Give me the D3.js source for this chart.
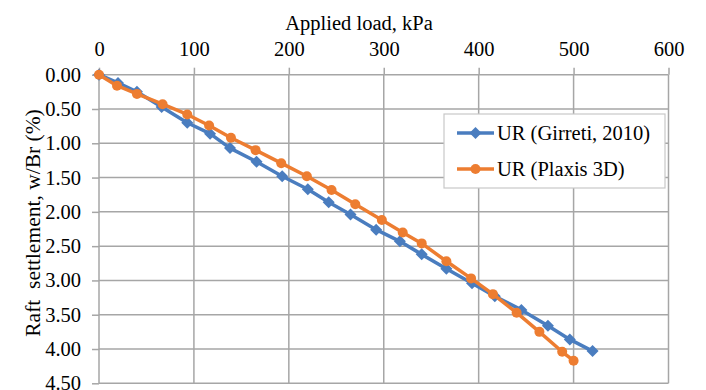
<!DOCTYPE html>
<html>
<head>
<meta charset="utf-8">
<script src="https://cdn.jsdelivr.net/npm/d3@7"></script>
<style>
  html, body { margin: 0; padding: 0; background: #fff; }
  svg { display: block; }
  text { font-family: "Liberation Serif", "Times New Roman", serif; fill: #000; }
</style>
</head>
<body>
<svg id="chart" width="706" height="390"></svg>
<script>
// Applied load (kPa) and normalised raft settlement w/Br (%)
const girretiLoad = [0, 20, 40, 66, 93, 117, 138, 166, 193, 220, 242, 265, 292, 317, 340, 366, 393, 417, 445, 473, 496, 520];
const girretiSettle = [0, 0.12, 0.25, 0.47, 0.70, 0.86, 1.07, 1.27, 1.48, 1.67, 1.86, 2.04, 2.26, 2.43, 2.62, 2.83, 3.04, 3.23, 3.43, 3.66, 3.86, 4.03];
const plaxisLoad = [0, 19, 40, 67, 93, 116, 139, 165, 192, 219, 245, 270, 298, 320, 340, 366, 392, 415, 440, 464, 488, 500];
const plaxisSettle = [0, 0.16, 0.28, 0.43, 0.58, 0.74, 0.92, 1.10, 1.29, 1.48, 1.68, 1.89, 2.12, 2.30, 2.46, 2.72, 2.97, 3.20, 3.47, 3.75, 4.04, 4.17];

const xTicks = [0, 100, 200, 300, 400, 500, 600];
const yTicks = [0, 0.5, 1, 1.5, 2, 2.5, 3, 3.5, 4, 4.5];

const seriesNames = ["UR (Girreti, 2010)", "UR (Plaxis 3D)"];
const xTitle = "Applied load, kPa";
const yTitle = "Raft\u00a0 settlement, w/Br (%)";

const W = 706, H = 390;
const margin = { top: 74.7, right: 37.5, bottom: 6.7, left: 99 };
const svg = d3.select("#chart");

const x = d3.scaleLinear().domain([0, 600]).range([margin.left, W - margin.right]);
const y = d3.scaleLinear().domain([0, 4.5]).range([margin.top, H - margin.bottom]);

const gridColor = "#a6a6a6";
const fontSize = 20.5;
const serif = '"Liberation Serif", "Times New Roman", serif';

// gridlines
const grid = svg.append("g");
grid.selectAll("line.v").data(xTicks).join("line")
  .attr("x1", d => x(d)).attr("x2", d => x(d))
  .attr("y1", y(0)).attr("y2", y(4.5))
  .attr("stroke", gridColor).attr("stroke-width", 1.5);
grid.selectAll("line.h").data(yTicks).join("line")
  .attr("x1", x(0)).attr("x2", x(600))
  .attr("y1", d => y(d)).attr("y2", d => y(d))
  .attr("stroke", gridColor).attr("stroke-width", 1.5);

// top axis
const xAxis = svg.append("g")
  .attr("transform", `translate(0,${y(0)})`)
  .call(d3.axisTop(x).tickValues(xTicks).tickSize(7).tickPadding(12).tickFormat(d3.format("d")))
  .attr("font-family", serif).attr("font-size", fontSize);
xAxis.select(".domain").remove();
xAxis.selectAll(".tick line").attr("stroke", gridColor).attr("stroke-width", 1.5);
xAxis.selectAll(".tick text").attr("fill", "#000");

// left axis
const yAxis = svg.append("g")
  .attr("transform", `translate(${x(0)},0)`)
  .call(d3.axisLeft(y).tickValues(yTicks).tickSize(7).tickPadding(11).tickFormat(d3.format(".2f")))
  .attr("font-family", serif).attr("font-size", fontSize);
yAxis.select(".domain").remove();
yAxis.selectAll(".tick line").attr("stroke", gridColor).attr("stroke-width", 1.5);
yAxis.selectAll(".tick text").attr("fill", "#000");

// axis titles
svg.append("text")
  .attr("x", 359).attr("y", 30)
  .attr("text-anchor", "middle")
  .style("font-size", fontSize + "px")
  .text(xTitle);

svg.append("text")
  .attr("transform", `translate(40,223) rotate(-90)`)
  .attr("text-anchor", "middle")
  .style("font-size", "21.5px")
  .text(yTitle);

// series
const colors = ["#4a7dbf", "#ed7d31"];
const series = [
  { name: seriesNames[0], load: girretiLoad, settle: girretiSettle, color: colors[0], marker: "diamond" },
  { name: seriesNames[1], load: plaxisLoad, settle: plaxisSettle, color: colors[1], marker: "circle" }
];

const line = d3.line().x(d => x(d[0])).y(d => y(d[1]));
const diamond = d3.symbol().type(d3.symbolSquare).size(72);

function drawMarker(g, type, color) {
  if (type === "diamond") {
    g.append("path").attr("d", diamond()).attr("transform", "rotate(45)").attr("fill", color);
  } else {
    g.append("circle").attr("r", 5).attr("fill", color);
  }
}

series.forEach(s => {
  const pts = s.load.map((v, i) => [v, s.settle[i]]);
  const g = svg.append("g");
  g.append("path").datum(pts)
    .attr("d", line)
    .attr("fill", "none")
    .attr("stroke", s.color)
    .attr("stroke-width", 3.5)
    .attr("stroke-linejoin", "round");
  pts.forEach(p => {
    const m = g.append("g").attr("transform", `translate(${x(p[0])},${y(p[1])})`);
    drawMarker(m, s.marker, s.color);
  });
});

// legend
const legend = svg.append("g");
legend.append("rect")
  .attr("x", 444).attr("y", 114).attr("width", 221).attr("height", 74)
  .attr("fill", "#fff").attr("stroke", "#c8c8c8").attr("stroke-width", 1.2);
series.forEach((s, i) => {
  const cy = 133 + i * 36;
  legend.append("line")
    .attr("x1", 457).attr("x2", 494).attr("y1", cy).attr("y2", cy)
    .attr("stroke", s.color).attr("stroke-width", 3.5);
  const m = legend.append("g").attr("transform", `translate(475.5,${cy})`);
  drawMarker(m, s.marker, s.color);
  legend.append("text")
    .attr("x", 497).attr("y", cy)
    .attr("dy", "0.35em")
    .style("font-size", fontSize + "px")
    .text(s.name);
});
</script>
</body>
</html>
